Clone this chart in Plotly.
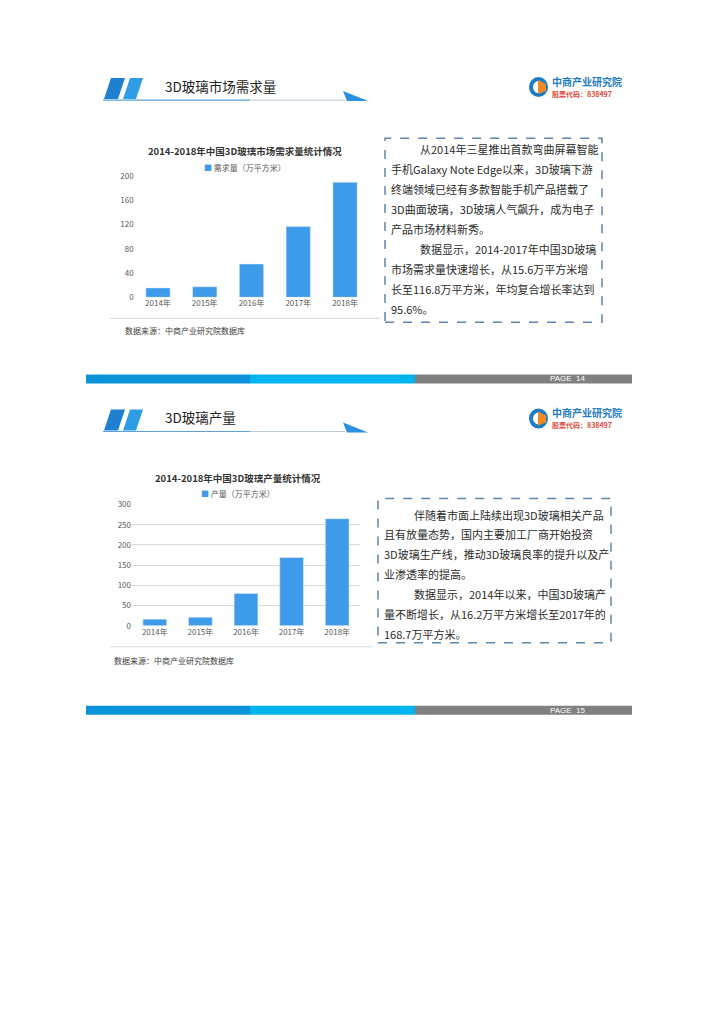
import plotly.graph_objects as go

# ---------------- data ----------------
years = ["2014年", "2015年", "2016年", "2017年", "2018年"]
demand = [15.6, 17.5, 55.0, 116.8, 190.0]
output = [16.2, 21.0, 80.0, 168.7, 265.0]
demand_ticks = [0, 40, 80, 120, 160, 200]
output_ticks = [0, 50, 100, 150, 200, 250, 300]

title1 = "3D玻璃市场需求量"
title2 = "3D玻璃产量"
chart1_title = "2014-2018年中国3D玻璃市场需求量统计情况"
chart2_title = "2014-2018年中国3D玻璃产量统计情况"
legend1 = "需求量（万平方米）"
legend2 = "产量（万平方米）"
source = "数据来源：中商产业研究院数据库"

box1_lines = [
    "从2014年三星推出首款弯曲屏幕智能",
    "手机Galaxy Note Edge以来，3D玻璃下游",
    "终端领域已经有多款智能手机产品搭载了",
    "3D曲面玻璃，3D玻璃人气飙升，成为电子",
    "产品市场材料新秀。",
    "数据显示，2014-2017年中国3D玻璃",
    "市场需求量快速增长，从15.6万平方米增",
    "长至116.8万平方米，年均复合增长率达到",
    "95.6%。",
]
box1_indent = [0, 5]
box2_lines = [
    "伴随着市面上陆续出现3D玻璃相关产品",
    "且有放量态势，国内主要加工厂商开始投资",
    "3D玻璃生产线，推动3D玻璃良率的提升以及产",
    "业渗透率的提高。",
    "数据显示，2014年以来，中国3D玻璃产",
    "量不断增长，从16.2万平方米增长至2017年的",
    "168.7万平方米。",
]
box2_indent = [0, 4]

# ---------------- helpers ----------------
W, H = 720, 1018
OX, OY = 8, 8  # page body margin of the html page
FONT = "Noto Sans CJK SC"
BAR = "#3e9bea"


def X(px):
    return (px - OX) / W


def Y(py):
    py = (py - 8.1) / 0.988
    return 1 - (py - OY) / H


shapes = []
annotations = []


def path(points, color):
    d = "M " + " L ".join(f"{X(a):.5f},{Y(b):.5f}" for a, b in points) + " Z"
    shapes.append(dict(type="path", xref="paper", yref="paper", path=d,
                       fillcolor=color, line=dict(width=0), layer="above"))


def rect(x0, y0, x1, y1, fill=None, line=None):
    shapes.append(dict(type="rect", xref="paper", yref="paper",
                       x0=X(x0), x1=X(x1), y0=Y(y1), y1=Y(y0),
                       fillcolor=fill if fill else "rgba(0,0,0,0)",
                       line=line if line else dict(width=0)))


def hline(x0, x1, y, color, width=1):
    shapes.append(dict(type="line", xref="paper", yref="paper",
                       x0=X(x0), x1=X(x1), y0=Y(y), y1=Y(y),
                       line=dict(color=color, width=width)))


def text(x, y, s, size, color="#333333", xanchor="left", bold=False, family=FONT):
    if bold:
        s = f"<b>{s}</b>"
    annotations.append(dict(xref="paper", yref="paper", x=X(x), y=Y(y), text=s,
                            showarrow=False, xanchor=xanchor, yanchor="middle",
                            font=dict(size=size, color=color, family=family)))


def header(dy, title):
    path([(104, 101 + dy), (111, 80 + dy), (125, 80 + dy), (118, 101 + dy)], "#1f80d2")
    path([(123, 101 + dy), (130, 80 + dy), (143, 80 + dy), (136, 101 + dy)], "#2f9ce6")
    hline(103, 250, 102 + dy, "#5aa3dc", 1.2)
    hline(250, 345, 102 + dy, "#b9c7d3", 1.0)
    path([(343, 93 + dy), (347, 103 + dy), (368, 103 + dy)], "#2a8fdc")
    text(163, 88 + dy, title, 13.5, "#222222")
    # logo
    shapes.append(dict(type="circle", xref="paper", yref="paper",
                       x0=X(531), x1=X(546), y0=Y(97 + dy), y1=Y(81 + dy),
                       line=dict(color="#1f7cc4", width=4)))
    path([(538, 82 + dy), (546, 86 + dy), (546, 93 + dy), (538, 96 + dy)], "#f08a24")
    text(550, 83 + dy, "中商产业研究院", 10, "#1f7cc4", bold=True)
    text(550, 95.5 + dy, "股票代码：838497", 7, "#e2483a", bold=True)


def footer(y0, page):
    rect(86, y0, 250, y0 + 9, fill="#0a93d8")
    rect(250, y0, 415, y0 + 9, fill="#00b4f0")
    rect(415, y0, 632, y0 + 9, fill="#808080")
    text(588, y0 + 4.5, page, 8, "#ffffff", xanchor="right", family="Liberation Sans")


def textbox(x0, y0, x1, y1, lines, indents, left, indent_x, top, step):
    rect(x0, y0, x1, y1, line=dict(color="#5d86ad", width=1.5, dash="dash"))
    for i, s in enumerate(lines):
        text(indent_x if i in indents else left, top + step * i, s, 11, "#2b2b2b")


# ---------------- page decoration ----------------
header(0, title1)
header(331, title2)
footer(376, "PAGE  14")
footer(707, "PAGE  15")

textbox(385, 140, 602, 324, box1_lines, box1_indent, 389, 418, 151, 20)
textbox(378, 500, 611, 644, box2_lines, box2_indent, 382, 412, 516, 19.8)

# chart titles / legends / sources
text(245, 153, chart1_title, 9.5, "#333333", xanchor="center", bold=True)
text(245, 169, f"<span style='color:{BAR}'>■</span> {legend1}", 8, "#595959", xanchor="center")
hline(110, 380, 320, "#cfd8e0", 1)
text(123, 332, source, 8, "#404040")

text(238, 479, chart2_title, 9.5, "#333333", xanchor="center", bold=True)
text(238, 495, f"<span style='color:{BAR}'>■</span> {legend2}", 8, "#595959", xanchor="center")
hline(110, 372, 648, "#cfd8e0", 1)
text(112, 662, source, 8, "#404040")

# ---------------- bars ----------------
fig = go.Figure()
fig.add_trace(go.Bar(x=years, y=demand, marker_color=BAR, xaxis="x", yaxis="y",
                     showlegend=False, name=legend1))
fig.add_trace(go.Bar(x=years, y=output, marker_color=BAR, xaxis="x2", yaxis="y2",
                     showlegend=False, name=legend2))

tickfont = dict(size=8, color="#595959", family=FONT)
fig.update_layout(
    width=W, height=H,
    margin=dict(l=0, r=0, t=0, b=0),
    paper_bgcolor="white", plot_bgcolor="white",
    bargap=0.48,
    xaxis=dict(domain=[X(134.6), X(368.4)], anchor="y", showgrid=False, zeroline=False,
               showline=False, ticks="", tickfont=tickfont),
    yaxis=dict(domain=[Y(299), Y(178)], anchor="x", range=[0, 200], tickvals=demand_ticks,
               showgrid=False, zeroline=False, showline=False, ticks="", tickfont=tickfont),
    xaxis2=dict(domain=[X(132), X(360)], anchor="y2", showgrid=False, zeroline=False,
                showline=False, ticks="", tickfont=tickfont),
    yaxis2=dict(domain=[Y(627), Y(506)], anchor="x2", range=[0, 300], tickvals=output_ticks,
                showgrid=True, gridcolor="#d9d9d9", gridwidth=1, zeroline=False,
                showline=False, ticks="", tickfont=tickfont),
    shapes=shapes,
    annotations=annotations,
)

fig.write_html("out.html")
